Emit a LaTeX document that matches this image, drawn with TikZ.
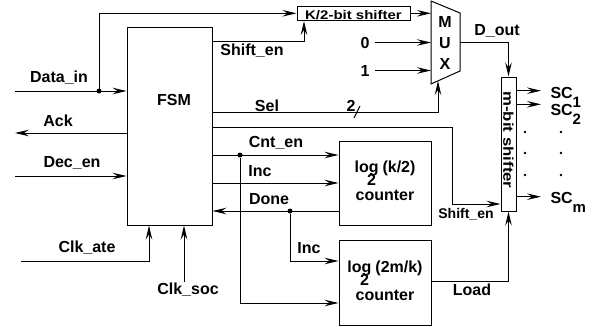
\documentclass[tikz,border=0pt]{standalone}
\usepackage{fontspec}
\setmainfont{Liberation Sans}
\usetikzlibrary{positioning,arrows.meta,calc}
\newcommand\logtwo[1]{log\llap{\raisebox{-13pt}{2}\kern2.5pt}\kern4pt#1}
\newcommand\scsub[1]{SC\raisebox{-9pt}{\fontsize{15}{15}\selectfont #1}}

\begin{document}
\begin{tikzpicture}[x=1pt,y=-1pt,line width=1pt,
    >={Stealth[length=14pt,width=6.5pt,inset=5pt]},
    lbl/.style={font=\fontsize{16}{19}\bfseries\selectfont,inner sep=0pt},
    small/.style={font=\fontsize{14}{16}\bfseries\selectfont,inner sep=0pt},
    box/.style={draw,inner sep=0pt},
    cnt/.style={box,minimum width=92pt,align=center,text depth=4pt,
      font=\fontsize{16}{28}\bfseries\selectfont},
    dot/.style={circle,fill,inner sep=0pt,minimum size=5pt}]
  \useasboundingbox (0,0) rectangle (598,327);
  % blocks
  \node[box,minimum width=85pt,minimum height=198pt] (fsm) at (169.5,126) {};
  \node[lbl] (fsmtxt) at (174,100) {FSM};
  \node[box,minimum width=113pt,minimum height=14.5pt] (kshift) at (353.5,13.3) {};
  \node[small,font=\fontsize{12.5}{14}\bfseries\selectfont,anchor=base] (kshtxt) at (353.5,19.5) {\scalebox{1.2}[1]{K/2-bit shifter}};
  \node[box,minimum width=15pt,minimum height=134pt] (msh) at (508.5,144) {};
  \node[small,rotate=-90] (mshtxt) at (508.5,140) {\scalebox{1.2}[1]{m-bit shifter}};
  \node[cnt,minimum height=84pt] (cntA) at (385,183) {\logtwo{(k/2)}\\counter};
  \node[cnt,minimum height=85pt] (cntB) at (385,282.5) {\logtwo{(2m/k)}\\counter};
  \coordinate (mux-a) at (431,1);
  \coordinate (mux-b) at (460,13);
  \coordinate (mux-c) at (460,71);
  \coordinate (mux-d) at (431,84);
  \draw (mux-a) -- (mux-b) -- (mux-c) -- (mux-d) -- cycle;
  \node[lbl,align=center,font=\fontsize{16}{21}\bfseries\selectfont] (muxtxt) at (445,43) {M\\U\\X};
  % fsm inputs and outputs on the left
  \coordinate (din) at (15,91);
  \coordinate (dinj) at (99,91);
  \draw[->] (din) -- (din -| fsm.west);
  \node[dot] (dindot) at (dinj) {};
  \draw[->] (dinj) |- (kshift.west);
  \node[lbl] (dinlbl) at (59,78) {Data\_in};
  \coordinate (ack) at (15,133);
  \draw[->] (ack -| fsm.west) -- (ack);
  \node[lbl] (acklbl) at (58,121) {Ack};
  \coordinate (dec) at (15,176);
  \draw[->] (dec) -- (dec -| fsm.west);
  \node[lbl] (declbl) at (72,163) {Dec\_en};
  \coordinate (clka) at (21,261);
  \draw[->] (clka) -| ($(fsm.south)+(-20.5,0)$);
  \node[lbl] (clkalbl) at (87,248) {Clk\_ate};
  \coordinate (clks) at (184,282);
  \draw[->] (clks) -- (clks |- fsm.south);
  \node[lbl] (clkslbl) at (188,290) {Clk\_soc};
  % shifter and mux
  \draw[->] (fsm.east |- 0,41) -| ($(kshift.south)+(-49.5,0)$);
  \node[lbl] (shenlbl) at (252,51) {Shift\_en};
  \draw[->] (kshift.east) -- (kshift.east -| mux-a);
  \node[lbl] (zero) at (365,42.5) {0};
  \draw[->] ([xshift=5pt]zero.east) -- (zero.east -| mux-a);
  \node[lbl] (one) at (365,70.5) {1};
  \draw[->] ([xshift=5pt]one.east) -- (one.east -| mux-a);
  \coordinate (mout) at (460,42);
  \draw[->] (mout) -| (msh.north);
  \node[lbl] (doutlbl) at (497,31) {D\_out};
  \coordinate (msel) at (438,81);
  \draw[->] (fsm.east |- 0,112) -| (msel);
  \node[lbl] (sellbl) at (267,106) {Sel};
  \node[lbl] (selw) at (351,106) {2};
  \draw ([shift={(3,12)}]selw.center) -- ++(6,-12);
  \draw[->] (fsm.east |- 0,127) -- (452,127) |- ($(msh.west)+(0,60)$);
  \node[small] (shen2lbl) at (466,214) {Shift\_en};
  % counters
  \draw[->] (fsm.east |- 0,155) -- (cntA.west |- 0,155);
  \node[dot] (cntdot) at (240,155) {};
  \draw[->] (cntdot) |- (cntB.west |- 0,303);
  \node[lbl] (cntlbl) at (276,143) {Cnt\_en};
  \draw[->] (fsm.east |- cntA.west) -- (cntA.west);
  \node[lbl] (inclbl) at (260,171) {Inc};
  \draw[->] (cntA.west |- 0,211) -- (fsm.east |- 0,211);
  \node[dot] (donedot) at (290,211) {};
  \draw[->] (donedot) |- (cntB.west |- 0,261);
  \node[lbl] (donelbl) at (269,199) {Done};
  \node[lbl] (inc2lbl) at (309,248) {Inc};
  \draw[->] (cntB.east |- 0,281) -| (msh.south);
  \node[lbl] (loadlbl) at (472,290) {Load};
  % outputs
  \foreach \y/\k/\b in {90.7/1/98.5,104.3/2/115,196.7/m/203} {
    \coordinate (scend\k) at (541,\y);
    \draw[->] (msh.east |- scend\k) -- (scend\k);
    \node[lbl,anchor=base west] (sc\k) at (550,\b) {\scsub{\k}};
  }
  \foreach \x in {525,561}
    \foreach \y in {132,153,175}
      \fill (\x,\y) circle (1.3);
\end{tikzpicture}
\end{document}
